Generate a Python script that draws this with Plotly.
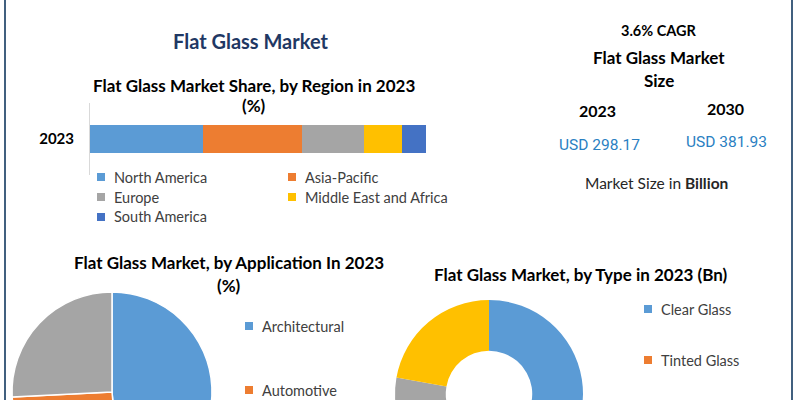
import plotly.graph_objects as go

W, H = 800, 500

# ---------------- data ----------------
regions = ["North America", "Asia-Pacific", "Europe", "Middle East and Africa", "South America"]
region_share = [33.6, 29.4, 18.5, 11.3, 7.2]
region_colors = ["#5b9bd5", "#ed7d31", "#a5a5a5", "#ffc000", "#4472c4"]
bar_year = ["2023"]

applications = ["Architectural", "Automotive", "Others"]
application_share = [48.5, 25.7, 25.8]
application_colors = ["#5b9bd5", "#ed7d31", "#a5a5a5"]

glass_types = ["Clear Glass", "Tinted Glass", "Reflective Glass", "Others"]
type_value_bn = [134.2, 53.7, 44.1, 66.17]
type_colors = ["#5b9bd5", "#ed7d31", "#a5a5a5", "#ffc000"]

cagr_text = "3.6% CAGR"
size_years = ["2023", "2030"]
size_values = ["USD 298.17", "USD 381.93"]

FONT = "Lato"


def px(x):
    return x / W


def py(y):
    return 1 - y / H


fig = go.Figure()

# stacked 100% horizontal bar
for name, val, col in zip(regions, region_share, region_colors):
    fig.add_trace(go.Bar(
        y=bar_year, x=[val], name=name, orientation="h",
        marker=dict(color=col, line=dict(width=0)),
        showlegend=False, hoverinfo="name+x",
    ))

# application pie
fig.add_trace(go.Pie(
    labels=applications, values=application_share, sort=False,
    direction="clockwise", rotation=0,
    marker=dict(colors=application_colors, line=dict(color="white", width=1.5)),
    textinfo="none", showlegend=False,
    domain=dict(x=[px(12), px(212)], y=[py(492), py(292)]),
))

# type donut
fig.add_trace(go.Pie(
    labels=glass_types, values=type_value_bn, sort=False,
    direction="clockwise", rotation=0, hole=0.46,
    marker=dict(colors=type_colors, line=dict(color="white", width=0)),
    textinfo="none", showlegend=False,
    domain=dict(x=[px(395), px(583)], y=[py(488), py(300)]),
))

annotations = []


def text(x, y, s, size, color="#000000", bold=False, family=FONT, xanchor="center"):
    annotations.append(dict(
        x=px(x), y=py(y), xref="paper", yref="paper", text=s, showarrow=False,
        xanchor=xanchor, yanchor="middle",
        font=dict(family=family, size=size, color=color, weight="bold" if bold else "normal"),
    ))


# main title
text(251, 41, "Flat Glass Market", 20, "#1f3864", True)
# bar chart title
text(254, 85, "Flat Glass Market Share, by Region in 2023", 17, "#000000", True)
text(254, 106, "(%)", 17, "#000000", True)

shapes = []


def legend_item(x, y, color, label, size=14.5):
    shapes.append(dict(type="rect", xref="paper", yref="paper",
                       x0=px(x), x1=px(x + 8), y0=py(y + 4), y1=py(y - 4),
                       fillcolor=color, line=dict(width=0)))
    text(x + 15, y, label, size, "#404040", False, xanchor="left")


# bar legend (two columns)
leg_pos = [(97, 177), (288, 177), (97, 197), (288, 197), (97, 217)]
for (lx, ly), name, col in zip(leg_pos, regions, region_colors):
    legend_item(lx, ly, col, name)

# right panel
text(659, 30, cagr_text, 14.5, "#000000", True)
text(659, 58, "Flat Glass Market", 17, "#000000", True)
text(659, 80, "Size", 17, "#000000", True)
text(597, 111, size_years[0], 16, "#000000", True)
text(725, 109, size_years[1], 16, "#000000", True)
text(599, 145, size_values[0], 15.5, "#2a80c2", False, family="Roboto")
text(726, 142, size_values[1], 15.5, "#2a80c2", False, family="Roboto")
text(656, 183, "Market Size in <b>Billion</b>", 15.5, "#262626", False)

# pie title & legend
text(229, 262, "Flat Glass Market, by Application In 2023", 17, "#000000", True)
text(229, 285, "(%)", 17, "#000000", True)
legend_item(245, 326, application_colors[0], applications[0])
legend_item(245, 390, application_colors[1], applications[1])

# donut title & legend
text(581, 274, "Flat Glass Market, by Type in 2023 (Bn)", 17, "#000000", True)
legend_item(644, 309, type_colors[0], glass_types[0])
legend_item(644, 360, type_colors[1], glass_types[1])

# frame lines left & right
for bx in (5, 792):
    shapes.append(dict(type="line", xref="paper", yref="paper",
                       x0=px(bx), x1=px(bx), y0=0, y1=1,
                       line=dict(color="#41607f", width=2)))

fig.update_layout(
    width=W, height=H,
    margin=dict(l=0, r=0, t=0, b=0),
    paper_bgcolor="white", plot_bgcolor="white",
    barmode="stack", bargap=0.61,
    xaxis=dict(domain=[px(90), px(426)], range=[0, 100], visible=False, fixedrange=True),
    yaxis=dict(domain=[py(175), py(103)], showline=True, linecolor="#d9d9d9", linewidth=1,
               ticks="", ticklabelstandoff=12, showgrid=False, zeroline=False, fixedrange=True,
               tickfont=dict(family=FONT, size=15, color="#000000", weight="bold")),
    annotations=annotations, shapes=shapes,
    font=dict(family=FONT),
)

fig.write_html(
    "out.html",
    config={"displayModeBar": False},
    post_script="document.body.style.margin='0px';document.body.style.overflow='hidden';",
)
